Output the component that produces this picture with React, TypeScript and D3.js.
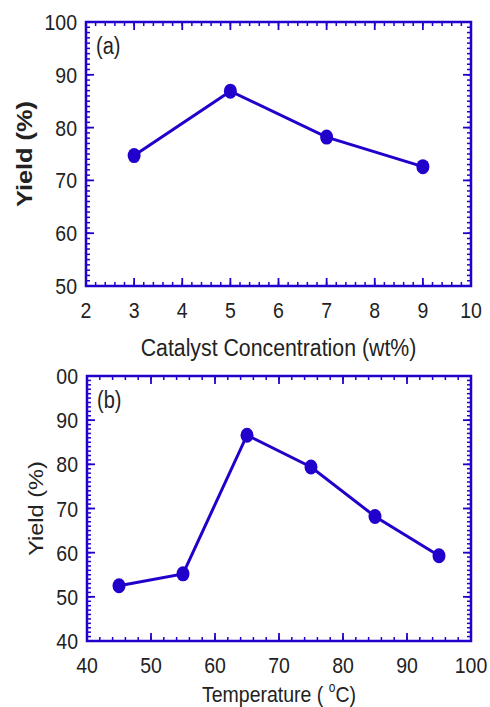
import React from 'react';
import * as d3 from 'd3';

// panel (a): yield vs catalyst concentration
const catalystConc = [3, 5, 7, 9];
const yieldA = [74.7, 86.9, 78.2, 72.6];
const xTicksA = [2, 3, 4, 5, 6, 7, 8, 9, 10];
const yTicksA = [50, 60, 70, 80, 90, 100];
const yLabelsA = ['50', '60', '70', '80', '90', '100'];

// panel (b): yield vs temperature
const temperature = [45, 55, 65, 75, 85, 95];
const yieldB = [52.5, 55.2, 86.6, 79.4, 68.2, 59.3];
const xTicksB = [40, 50, 60, 70, 80, 90, 100];
const yTicksB = [40, 50, 60, 70, 80, 90, 100];
const yLabelsB = ['40', '50', '60', '70', '80', '90', '00'];

const BLUE = '#2200cc';
const FONT = '"Liberation Sans", Arial, sans-serif';
const SY = 1.15; // the figure is a little stretched vertically

type PanelProps = {
  box: { left: number; right: number; top: number; bottom: number };
  xDomain: [number, number];
  yDomain: [number, number];
  xTicks: number[];
  yTicks: number[];
  yLabels: string[];
  xMinor: number;
  yMinor: number;
  xs: number[];
  ys: number[];
  tag: string;
  xTitle: React.ReactNode;
  xTitleY: number;
  xTitleSize: number;
  yTitleX: number;
  yTitleWeight: string | number;
  yTitleSize: number;
};

const Txt = ({ x, y, size, anchor = 'middle', weight = 'normal', rotate = 0, children }: any) => (
  <text
    transform={`translate(${x},${y}) rotate(${rotate}) scale(${rotate ? SY : 1},${rotate ? 1 : SY})`}
    fontSize={size}
    fontFamily={FONT}
    fontWeight={weight}
    textAnchor={anchor}
    fill="#222"
  >
    {children}
  </text>
);

const Panel = (p: PanelProps) => {
  const { box } = p;
  const x = d3.scaleLinear().domain(p.xDomain).range([box.left, box.right]);
  const y = d3.scaleLinear().domain(p.yDomain).range([box.bottom, box.top]);
  const xMinor = d3.range(p.xDomain[0], p.xDomain[1] + 1e-9, p.xMinor);
  const yMinor = d3.range(p.yDomain[0], p.yDomain[1] + 1e-9, p.yMinor);
  const line = d3.line<number>().x((d, i) => x(p.xs[i])).y(d => y(d));
  const major = 8;
  const minor = 4;

  return (
    <g>
      {/* minor ticks, all four sides pointing inward */}
      {xMinor.map((v, i) => (
        <g key={'xm' + i} stroke={BLUE} strokeWidth={1.5}>
          <line x1={x(v)} x2={x(v)} y1={box.bottom} y2={box.bottom - minor} />
          <line x1={x(v)} x2={x(v)} y1={box.top} y2={box.top + minor} />
        </g>
      ))}
      {yMinor.map((v, i) => (
        <g key={'ym' + i} stroke={BLUE} strokeWidth={1.5}>
          <line x1={box.left} x2={box.left + minor} y1={y(v)} y2={y(v)} />
          <line x1={box.right} x2={box.right - minor} y1={y(v)} y2={y(v)} />
        </g>
      ))}
      {p.xTicks.map(v => (
        <g key={'xt' + v} stroke={BLUE} strokeWidth={1.8}>
          <line x1={x(v)} x2={x(v)} y1={box.bottom} y2={box.bottom - major} />
          <line x1={x(v)} x2={x(v)} y1={box.top} y2={box.top + major} />
        </g>
      ))}
      {p.yTicks.map(v => (
        <g key={'yt' + v} stroke={BLUE} strokeWidth={1.8}>
          <line x1={box.left} x2={box.left + major} y1={y(v)} y2={y(v)} />
          <line x1={box.right} x2={box.right - major} y1={y(v)} y2={y(v)} />
        </g>
      ))}
      <rect
        x={box.left}
        y={box.top}
        width={box.right - box.left}
        height={box.bottom - box.top}
        fill="none"
        stroke={BLUE}
        strokeWidth={2.5}
      />

      {/* tick labels */}
      {p.xTicks.map(v => (
        <Txt key={'xl' + v} x={x(v)} y={box.bottom + 32} size={19.5}>
          {String(v)}
        </Txt>
      ))}
      {p.yTicks.map((v, i) => (
        <Txt key={'yl' + v} x={box.left - 9} y={y(v) + 8} size={19.5} anchor="end">
          {p.yLabels[i]}
        </Txt>
      ))}

      {/* data */}
      <path d={line(p.ys) || ''} fill="none" stroke={BLUE} strokeWidth={3} />
      {p.ys.map((v, i) => (
        <ellipse key={'pt' + i} cx={x(p.xs[i])} cy={y(v)} rx={6.5} ry={7.5} fill={BLUE} />
      ))}

      <Txt x={box.left + 10} y={box.top + 32} size={20} anchor="start">
        {p.tag}
      </Txt>
      <Txt x={(box.left + box.right) / 2} y={p.xTitleY} size={p.xTitleSize}>
        {p.xTitle}
      </Txt>
      <Txt
        x={p.yTitleX}
        y={(box.top + box.bottom) / 2}
        size={p.yTitleSize}
        weight={p.yTitleWeight}
        rotate={-90}
      >
        Yield (%)
      </Txt>
    </g>
  );
};

export default function App() {
  return (
    <svg
      width={490}
      height={707}
      style={{ position: 'absolute', left: 0, top: 0, background: '#fff', display: 'block' }}
    >
      <Panel
        box={{ left: 86, right: 471, top: 22, bottom: 286 }}
        xDomain={[2, 10]}
        yDomain={[50, 100]}
        xTicks={xTicksA}
        yTicks={yTicksA}
        yLabels={yLabelsA}
        xMinor={0.2}
        yMinor={1}
        xs={catalystConc}
        ys={yieldA}
        tag="(a)"
        xTitle="Catalyst Concentration (wt%)"
        xTitleY={356}
        xTitleSize={21.3}
        yTitleX={32}
        yTitleWeight="bold"
        yTitleSize={22}
      />
      <Panel
        box={{ left: 87, right: 471, top: 376, bottom: 641 }}
        xDomain={[40, 100]}
        yDomain={[40, 100]}
        xTicks={xTicksB}
        yTicks={yTicksB}
        yLabels={yLabelsB}
        xMinor={2}
        yMinor={1}
        xs={temperature}
        ys={yieldB}
        tag="(b)"
        xTitle={
          <>
            Temperature ( <tspan fontSize={12} dy={-9}>o</tspan>
            <tspan dy={9}>C)</tspan>
          </>
        }
        xTitleY={702}
        xTitleSize={19.5}
        yTitleX={43}
        yTitleWeight="normal"
        yTitleSize={20.5}
      />
    </svg>
  );
}
